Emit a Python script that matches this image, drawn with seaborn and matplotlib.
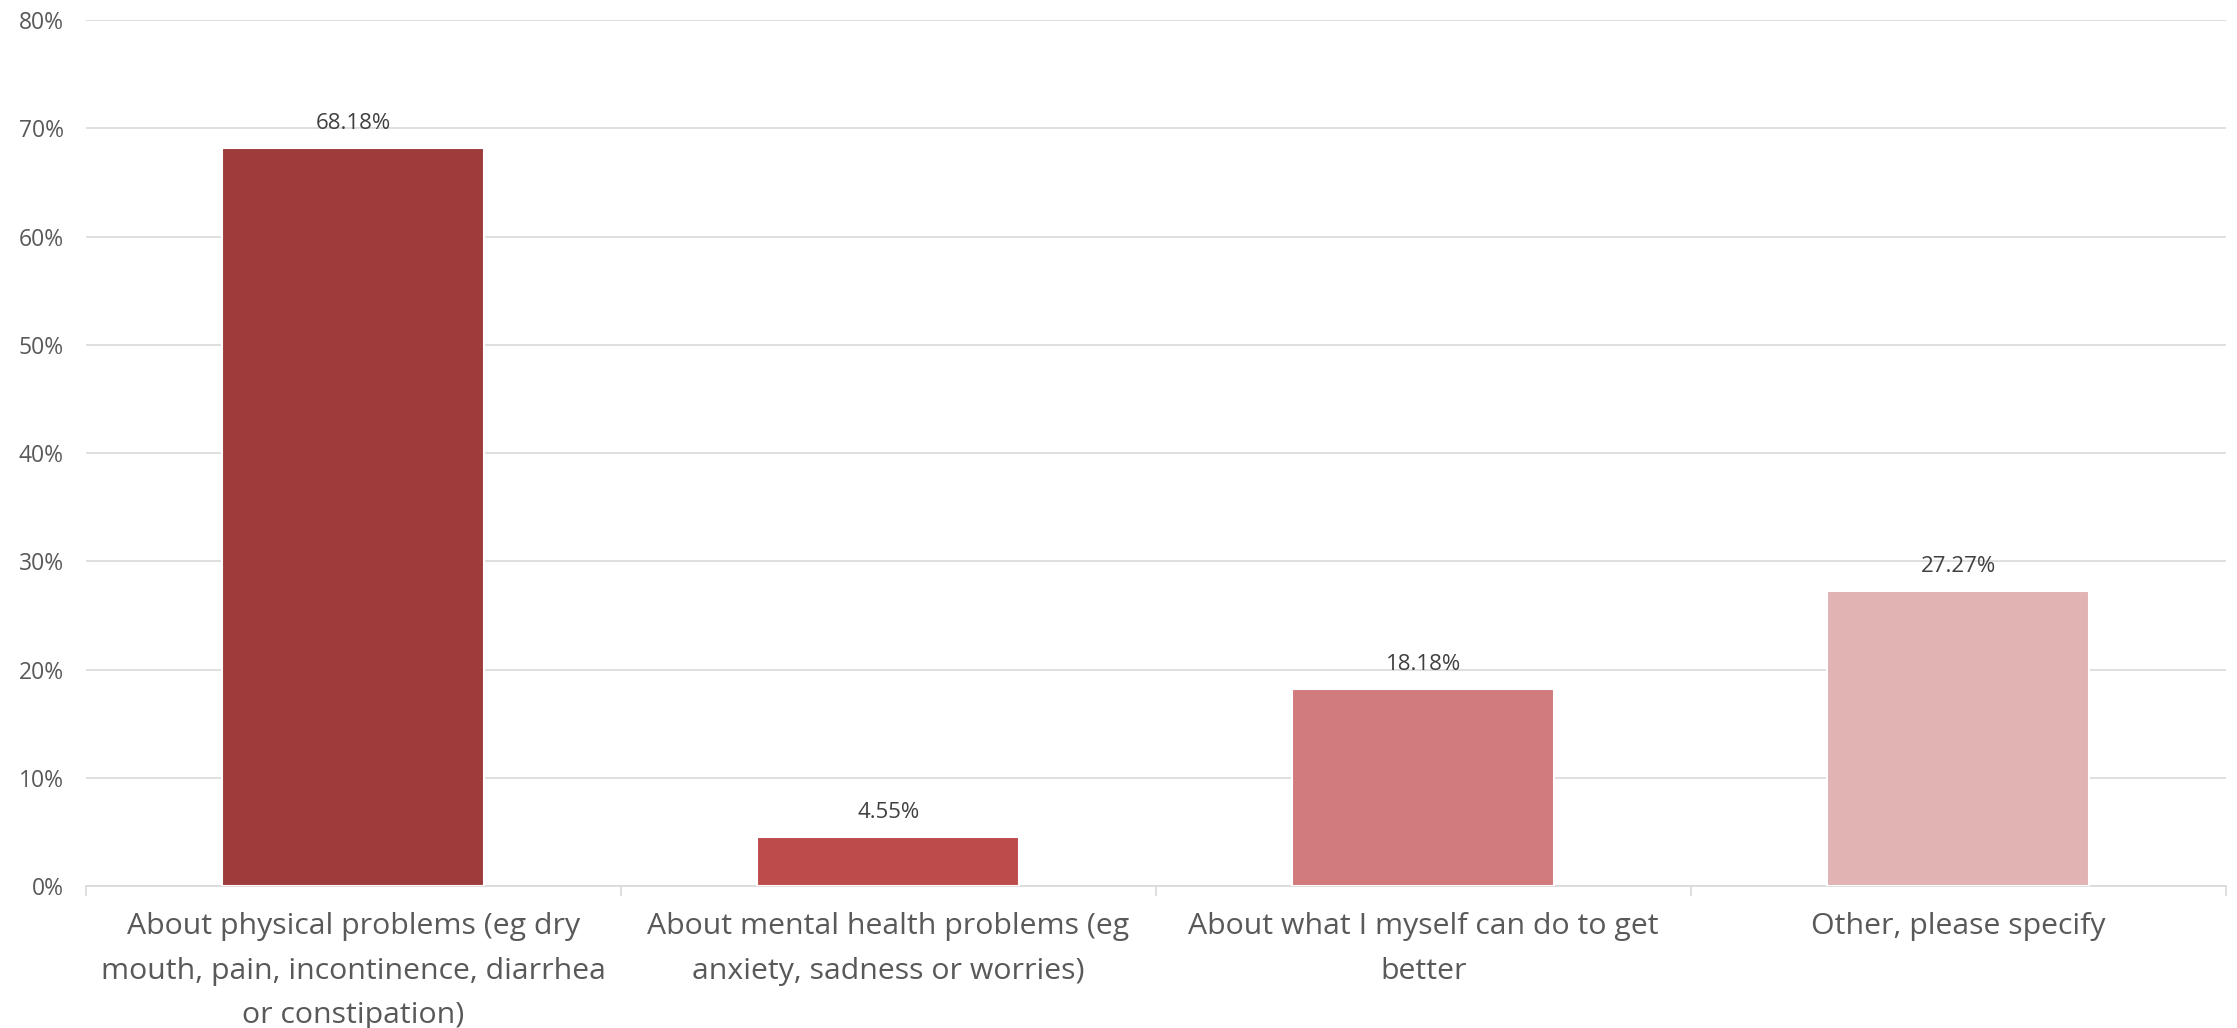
import matplotlib
matplotlib.use("Agg")
import matplotlib.pyplot as plt
import seaborn as sns
import pandas as pd
from matplotlib.ticker import FuncFormatter, FixedLocator

# Survey responses: what respondents wanted more information about
categories = [
    "About physical problems (eg dry\nmouth, pain, incontinence, diarrhea\nor constipation)",
    "About mental health problems (eg\nanxiety, sadness or worries)",
    "About what I myself can do to get\nbetter",
    "Other, please specify",
]
shares = [68.18, 4.55, 18.18, 27.27]
bar_colors = ["#9E3B3B", "#BE4B4B", "#D17B7C", "#E1B3B3"]
y_ticks = [0, 10, 20, 30, 40, 50, 60, 70, 80]

df = pd.DataFrame({"category": categories, "share": shares})

sns.set_theme(style="white")
plt.rcParams["font.family"] = ["Open Sans", "DejaVu Sans"]

fig = plt.figure(figsize=(22.37, 10.28), dpi=100)
ax = fig.add_axes([0.0384, 0.1381, 0.9566, 0.8424])

sns.barplot(
    data=df, x="category", y="share", hue="category",
    palette=bar_colors, saturation=1, width=0.49, legend=False,
    edgecolor="white", linewidth=1.5, ax=ax, zorder=3,
)

ax.set_ylim(0, 80)
ax.set_xlim(-0.5, len(categories) - 0.5)
ax.set_yticks(y_ticks)
ax.yaxis.set_major_formatter(FuncFormatter(lambda v, _: f"{v:.0f}%"))
ax.yaxis.grid(True, color="#d9d9d9", linewidth=1.2, zorder=0)
ax.set_axisbelow(True)

for side in ["left", "right", "top"]:
    ax.spines[side].set_visible(False)
ax.spines["bottom"].set_color("#d9d9d9")
ax.spines["bottom"].set_linewidth(1.2)

# Category separators as small downward ticks on the baseline
ax.xaxis.set_minor_locator(FixedLocator([i - 0.5 for i in range(len(categories) + 1)]))
ax.tick_params(axis="x", which="minor", length=7, width=1.2, color="#d9d9d9", bottom=True)
ax.tick_params(axis="x", which="major", length=0, pad=19, labelsize=21.8, labelcolor="#595959")
ax.tick_params(axis="y", length=0, pad=16, labelsize=16.5, labelcolor="#595959")
for lbl in ax.get_xticklabels():
    lbl.set_linespacing(1.7)

ax.set_xlabel("")
ax.set_ylabel("")

for container in ax.containers:
    ax.bar_label(container, fmt="%.2f%%", padding=10, fontsize=16, color="#404040")

fig.savefig("out.png", dpi=100)
